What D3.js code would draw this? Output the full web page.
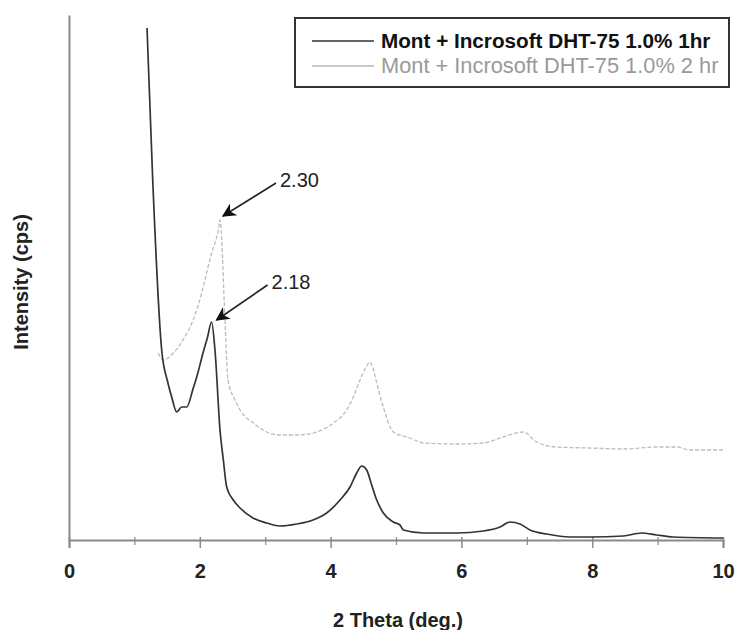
<!DOCTYPE html>
<html><head><meta charset="utf-8">
<script src="https://cdn.jsdelivr.net/npm/d3@7"></script>
<style>body{margin:0;background:#fff}svg{display:block}text{font-family:"Liberation Sans",Arial,sans-serif}</style>
</head><body>
<svg id="c" width="737" height="630"></svg>
<script>
// ---- data (intensity in arbitrary cps) ----
const seriesNames = ["Mont + Incrosoft DHT-75 1.0% 1hr", "Mont + Incrosoft DHT-75 1.0% 2 hr"];
const theta1hr = [1.193,1.28,1.417,1.509,1.570,1.647,1.723,1.80,1.90,1.953,2.053,2.115,2.18,2.232,2.309,2.36,2.411,2.512,2.615,2.813,3.023,3.226,3.482,3.731,3.940,4.144,4.297,4.399,4.476,4.552,4.628,4.705,4.806,4.959,5.061,5.112,5.417,5.928,6.335,6.590,6.743,6.896,7.049,7.304,7.661,7.966,8.476,8.757,8.986,9.240,10.0];
const cps1hr   = [5120,3600,1900,1580,1430,1280,1330,1330,1520,1630,1880,2020,2180,1900,1100,800,530,400,320,220,170,140,160,200,270,400,530,670,740,700,550,400,270,180,150,100,70,70,90,130,180,160,100,60,30,30,40,70,50,30,20];
const theta2hr = [1.365,1.442,1.595,1.723,1.927,1.977,2.182,2.283,2.309,2.385,2.431,2.538,2.615,2.818,3.023,3.226,3.482,3.787,4.041,4.246,4.347,4.450,4.552,4.602,4.648,4.705,4.806,4.959,5.214,5.417,5.928,6.335,6.641,6.947,7.151,7.457,7.966,8.476,8.986,9.292,9.495,10.0];
const cps2hr   = [1870,1800,1870,1980,2250,2350,2870,3100,3200,2200,1600,1400,1300,1170,1080,1050,1050,1080,1170,1300,1430,1600,1740,1780,1720,1570,1330,1080,1020,970,960,970,1030,1080,980,930,920,910,930,930,900,900];
const xTicksMajor = [0,2,4,6,8,10];
const xTicksMinor = [1,3,5,7,9];
const peakLabels = ["2.18","2.30"];
const peakTheta = [2.18, 2.309];
const peakCps = [2180, 3200];

const svg = d3.select("#c");
const x = d3.scaleLinear().domain([0,10]).range([69,723]);
const y = d3.scaleLinear().domain([0,5250]).range([540,15]);

// axes
const gx = svg.append("g").attr("transform","translate(0,540)")
  .call(d3.axisBottom(x).tickValues(xTicksMajor).tickSize(8).tickPadding(16).tickFormat(d3.format("d")));
gx.select(".domain").attr("stroke","#8a8a8a").attr("stroke-width",2);
gx.selectAll(".tick line").attr("stroke","#8a8a8a").attr("stroke-width",1.5).attr("y1",-3);
gx.selectAll(".tick text").attr("font-size",20).attr("font-weight","bold").attr("fill","#222");
const gm = svg.append("g").attr("transform","translate(0,540)")
  .call(d3.axisBottom(x).tickValues(xTicksMinor).tickSize(5).tickFormat(""));
gm.select(".domain").remove();
gm.selectAll(".tick line").attr("stroke","#8a8a8a").attr("stroke-width",1.2).attr("y1",-3);

const gy = svg.append("g").attr("transform","translate(69,0)")
  .call(d3.axisLeft(y).tickValues([]).tickSizeOuter(0));
gy.select(".domain").attr("stroke","#8a8a8a").attr("stroke-width",2);

// labels
svg.append("text").attr("x",398).attr("y",627).attr("text-anchor","middle")
  .attr("font-size",20).attr("font-weight","bold").attr("fill","#222").text("2 Theta (deg.)");
svg.append("text").attr("transform","translate(28,282) rotate(-90)").attr("text-anchor","middle")
  .attr("font-size",20).attr("font-weight","bold").attr("fill","#222").text("Intensity (cps)");

// lines
const line = d3.line().x(d=>x(d[0])).y(d=>y(d[1])).curve(d3.curveMonotoneX);
const d2 = theta2hr.map((t,i)=>[t,cps2hr[i]]);
const d1 = theta1hr.map((t,i)=>[t,cps1hr[i]]);
svg.append("path").attr("d",line(d2)).attr("fill","none").attr("stroke","#bcbcbc").attr("stroke-width",1.3)
  .attr("stroke-dasharray","4,2");
svg.append("path").attr("d",line(d1)).attr("fill","none").attr("stroke","#333").attr("stroke-width",1.7);

// annotations
const defs = svg.append("defs");
defs.append("marker").attr("id","ah").attr("viewBox","0 0 10 10").attr("refX",9).attr("refY",5)
  .attr("markerWidth",16).attr("markerHeight",14).attr("markerUnits","userSpaceOnUse").attr("orient","auto")
  .append("path").attr("d","M0,0 L10,5 L0,10 L3,5 Z").attr("fill","#111");
const tipOff = [[5,-2],[3,-4]];
peakLabels.forEach((lab,i)=>{
  const px = x(peakTheta[i]), py = y(peakCps[i]);
  svg.append("line").attr("x1",px+56).attr("y1",py-37).attr("x2",px+tipOff[i][0]).attr("y2",py+tipOff[i][1])
    .attr("stroke","#222").attr("stroke-width",1.6).attr("marker-end","url(#ah)");
  svg.append("text").attr("x",px+60).attr("y",py-33).attr("font-size",20).attr("fill","#222").text(lab);
});

// legend
const lg = svg.append("g");
lg.append("rect").attr("x",295).attr("y",18).attr("width",434).attr("height",69)
  .attr("fill","#fff").attr("stroke","#333").attr("stroke-width",2);
const lstroke = ["#333","#b8b8b8"], lfill = ["#111","#999"], lweight = ["bold","normal"], lsize=[20.7,21.8];
seriesNames.forEach((n,i)=>{
  const yy = 41 + i*25;
  lg.append("line").attr("x1",312).attr("x2",374).attr("y1",yy).attr("y2",yy).attr("stroke",lstroke[i]).attr("stroke-width",1.5);
  lg.append("text").attr("x",381).attr("y",yy+7).attr("font-size",lsize[i]).attr("font-weight",lweight[i])
    .attr("fill",lfill[i]).text(n);
});
</script>
</body></html>
